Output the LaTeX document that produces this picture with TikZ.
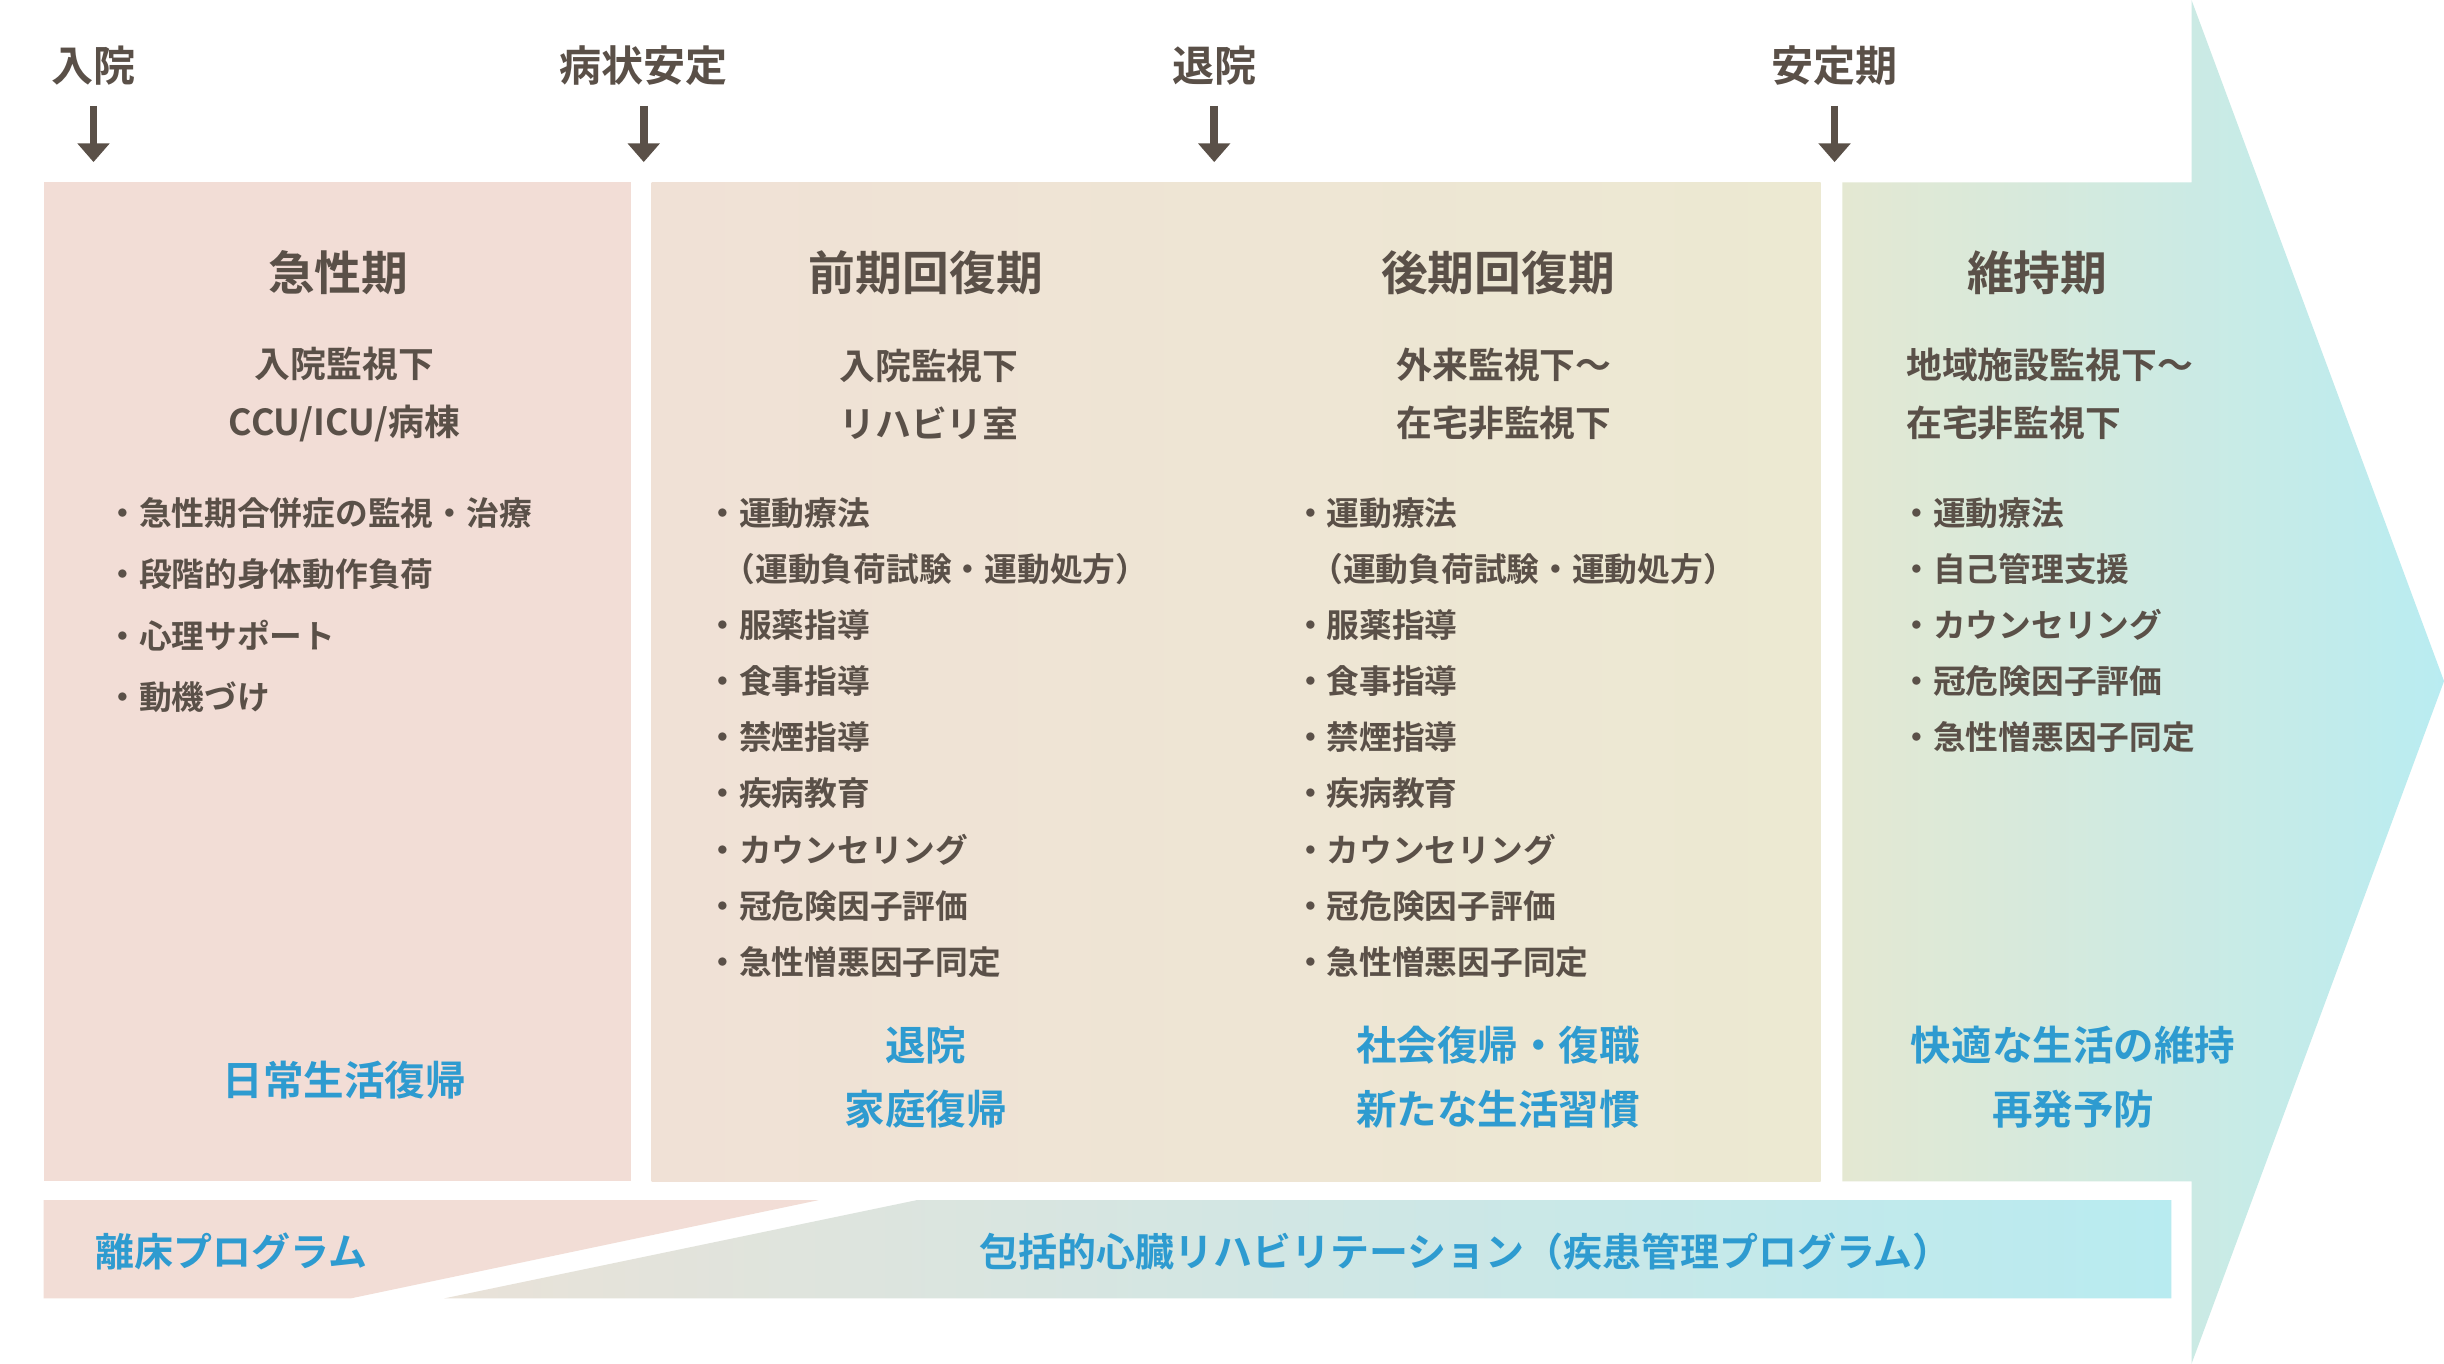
\documentclass[tikz,border=0pt]{standalone}
\usepackage{fontspec}
\setmainfont{Noto Sans CJK JP}[BoldFont={* Bold}]
\definecolor{tx}{HTML}{5A5048}
\definecolor{bl}{HTML}{2E9BD0}
\definecolor{pk}{HTML}{F2DDD6}
\definecolor{m1}{HTML}{F0E1D6}
\definecolor{m2}{HTML}{ECE9D2}
\definecolor{r1}{HTML}{E4E8D2}
\definecolor{r2}{HTML}{B9ECF1}
\definecolor{b1}{HTML}{E9E2D8}
\definecolor{b2}{HTML}{B8EBF0}
\tikzset{
 hd/.style={font=\fontsize{30}{34}\selectfont\bfseries,text=tx},
 sb/.style={font=\fontsize{23}{37}\selectfont\bfseries,text=tx,align=center},
 it/.style={font=\fontsize{21}{24}\selectfont\bfseries,text=tx,anchor=west,inner sep=0},
 gl/.style={font=\fontsize{26}{41}\selectfont\bfseries,text=bl,align=center},
 tp/.style={font=\fontsize{27}{30}\selectfont\bfseries,text=tx},
 da/.style={draw=tx,line width=5pt,-{Triangle[length=12pt,width=20pt]}}
}
\usetikzlibrary{arrows.meta}
\begin{document}
\begin{tikzpicture}[x=1pt,y=-1pt]
\useasboundingbox (0,0) rectangle (1568,875);
\fill[white] (0,0) rectangle (1568,875);
% arrow panel
\shade[left color=r1,right color=r2] (1182,117)--(1406,117)--(1406,0)--(1568,437)--(1406,875)--(1406,758)--(1182,758)--cycle;
\fill[pk] (28,117) rectangle (405,758);
\shade[left color=m1,right color=m2] (418,117) rectangle (1168,758);
% bottom bar
\fill[pk] (28,770)--(525,770)--(225,833)--(28,833)--cycle;
\shade[left color=b1,right color=b2] (588,770)--(1393,770)--(1393,833)--(285,833)--cycle;
\node[gl,font=\fontsize{25}{28}\selectfont\bfseries,anchor=west] (p1) at (58,803) {離床プログラム};
\node[gl,font=\fontsize{25}{28}\selectfont\bfseries,anchor=west] (p2) at (625,803) {包括的心臓リハビリテーション（疾患管理プログラム）};
% top markers
\foreach \x/\t/\n in {60/入院/a,413/病状安定/b,779/退院/c,1177/安定期/d}{
 \node[tp] (t\n) at (\x,42) {\t};
 \coordinate (s\n) at (\x,68); \coordinate (e\n) at (\x,104);
 \draw[da] (s\n)--(e\n);
}
% headings
\node[hd] (h1) at (217,175) {急性期};
\node[hd] (h2) at (594,175) {前期回復期};
\node[hd] (h3) at (961,175) {後期回復期};
\node[hd] (h4) at (1307,175) {維持期};
\node[sb] (s1) at (221,253) {入院監視下\\CCU/ICU/病棟};
\node[sb] (s2) at (596,253) {入院監視下\\リハビリ室};
\node[sb] (s3) at (965,253) {外来監視下～\\在宅非監視下};
\node[sb,align=left] (s4) at (1315,253) {地域施設監視下～\\在宅非監視下};
% lists
\foreach \t [count=\i] in {急性期合併症の監視・治療,段階的身体動作負荷,心理サポート,動機づけ}
 \node[it] (l\i) at (68,{329+39.5*(\i-1)}) {・\t};
\foreach \t [count=\i] in {・運動療法,\hspace{0.5em}（運動負荷試験・運動処方）,・服薬指導,・食事指導,・禁煙指導,・疾病教育,・カウンセリング,・冠危険因子評価,・急性憎悪因子同定}{
 \node[it] (m\i) at (453,{329+36*(\i-1)}) {\t};
 \node[it] (n\i) at (830,{329+36*(\i-1)}) {\t};}
\foreach \t [count=\i] in {運動療法,自己管理支援,カウンセリング,冠危険因子評価,急性憎悪因子同定}
 \node[it] (r\i) at (1219,{329+36*(\i-1)}) {・\t};
% goals
\node[gl] (g1) at (221,693) {日常生活復帰};
\node[gl] (g2) at (594,691) {退院\\家庭復帰};
\node[gl] (g3) at (961,691) {社会復帰・復職\\新たな生活習慣};
\node[gl] (g4) at (1330,691) {快適な生活の維持\\再発予防};
\end{tikzpicture}
\end{document}
